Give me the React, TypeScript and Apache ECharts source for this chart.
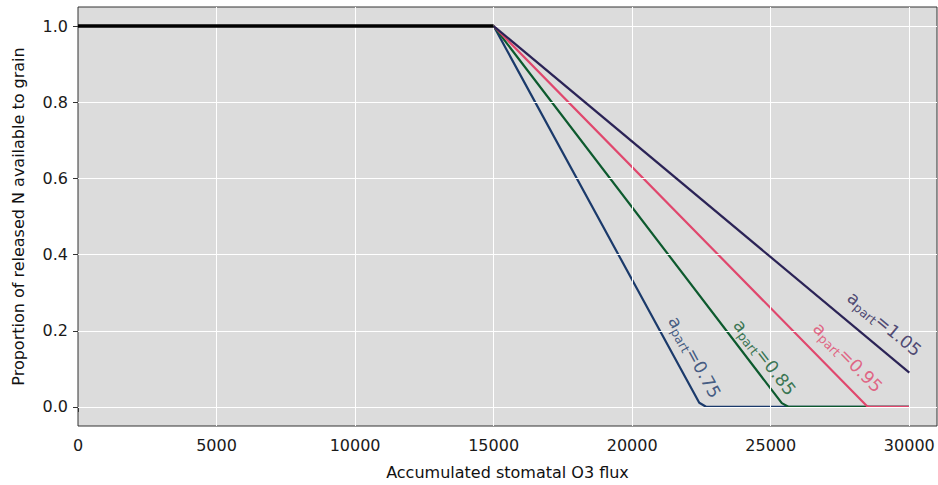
import React, { useEffect, useRef } from "react";
import * as echarts from "echarts";

const xTicks = [0, 5000, 10000, 15000, 20000, 25000, 30000];
const yTicks = [0, 0.2, 0.4, 0.6, 0.8, 1.0];

const baseline: number[][] = [[0, 1], [15000, 1]];
const line075: number[][] = [[15000, 1], [22420, 0.011], [22680, 0], [30000, 0]];
const line085: number[][] = [[15000, 1], [25400, 0.01], [25650, 0], [30000, 0]];
const line095: number[][] = [[15000, 1], [28460, 0.003], [28550, 0], [30000, 0]];
const line105: number[][] = [[15000, 1], [30000, 0.09]];

const lineNames = ["0.75", "0.85", "0.95", "1.05"];
const lineColors = ["#1b3a6b", "#0d5a2e", "#e0476d", "#2b2356"];
// label anchor points (data coords) and rotation angles (deg)
const labelPos: number[][] = [[22250, 0.131], [24780, 0.13], [27780, 0.13], [29100, 0.218]];
const labelRot = [-61.4, -52.7, -45.6, -39.9];

export default function App() {
  const ref = useRef<HTMLDivElement>(null);
  useEffect(() => {
    document.body.style.margin = "0";
    const chart = echarts.init(ref.current!, null, { renderer: "svg" });
    const font = "DejaVu Sans";
    const lines = [line075, line085, line095, line105];
    const option: any = {
      animation: false,
      textStyle: { fontFamily: font },
      grid: {
        left: 78,
        right: 1,
        top: 7,
        bottom: 57,
        show: true,
        backgroundColor: "#dcdcdc",
        borderColor: "#333",
        borderWidth: 1,
      },
      xAxis: {
        type: "value",
        min: 0,
        max: 31000,
        name: "Accumulated stomatal O3 flux",
        nameLocation: "middle",
        nameGap: 38,
        nameTextStyle: { fontSize: 16, color: "#111", fontFamily: font },
        axisLine: { show: false },
        axisTick: { show: true, length: 5, customValues: xTicks, lineStyle: { color: "#333" } },
        axisLabel: {
          customValues: xTicks,
          fontSize: 16,
          color: "#1a1a1a",
          margin: 11,
          fontFamily: font,
          formatter: (v: number) => String(v),
        },
        splitLine: { show: false },
      },
      yAxis: {
        type: "value",
        min: -0.05,
        max: 1.05,
        name: "Proportion of released N available to grain",
        nameLocation: "middle",
        nameGap: 52,
        nameTextStyle: { fontSize: 16, color: "#111", fontFamily: font },
        axisLine: { show: false },
        axisTick: { show: true, length: 5, customValues: yTicks, lineStyle: { color: "#333" } },
        axisLabel: {
          customValues: yTicks,
          fontSize: 16,
          color: "#1a1a1a",
          margin: 10,
          fontFamily: font,
          formatter: (v: number) => v.toFixed(1),
        },
        splitLine: { show: false },
      },
      series: [
        {
          type: "line",
          data: [],
          silent: true,
          z: 1,
          markLine: {
            silent: true,
            symbol: "none",
            label: { show: false },
            lineStyle: { color: "#ffffff", width: 1, type: "solid" },
            data: [
              ...yTicks.map((v) => ({ yAxis: v })),
              ...xTicks.filter((v) => v > 0).map((v) => ({ xAxis: v })),
            ],
          },
        },
        ...lines.map((d, i) => ({
          type: "line",
          data: d,
          showSymbol: false,
          symbol: "none",
          z: 2 + i,
          lineStyle: { color: lineColors[i], width: 2.2 },
        })),
        {
          type: "line",
          data: baseline,
          showSymbol: false,
          symbol: "none",
          z: 10,
          lineStyle: { color: "#000", width: 3.5 },
        },
        {
          type: "scatter",
          symbolSize: 0,
          z: 11,
          data: labelPos.map((p, i) => ({
            value: p,
            label: {
              show: true,
              position: "inside",
              rotate: labelRot[i],
              formatter: `{a|a}{s|part}{a|=${lineNames[i]}}`,
              rich: {
                a: { fontSize: 17.5, color: lineColors[i], fontFamily: font },
                s: { fontSize: 12.5, color: lineColors[i], fontFamily: font, padding: [9, 0, 0, 0] },
              },
            },
          })),
        },
      ],
    };
    chart.setOption(option);
    return () => chart.dispose();
  }, []);
  return <div ref={ref} style={{ width: 938, height: 485 }} />;
}
